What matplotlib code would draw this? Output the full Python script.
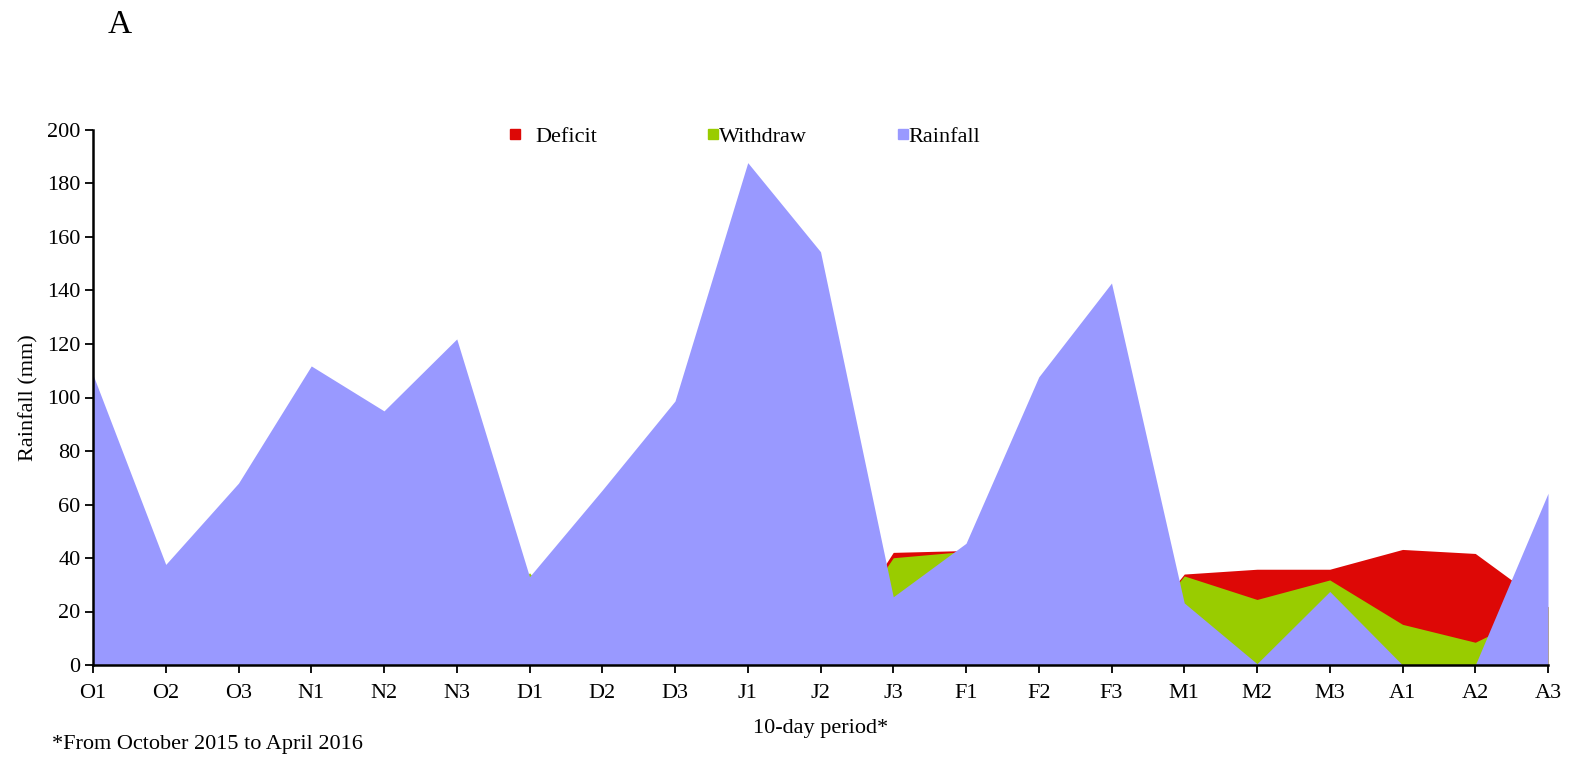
import matplotlib
matplotlib.use("Agg")
import matplotlib.pyplot as plt
from matplotlib.lines import Line2D
import numpy as np

plt.rcParams['font.family'] = ['Liberation Serif', 'DejaVu Serif']

periods = ["O1", "O2", "O3", "N1", "N2", "N3", "D1", "D2", "D3", "J1", "J2",
           "J3", "F1", "F2", "F3", "M1", "M2", "M3", "A1", "A2", "A3"]
rainfall = [108.5, 37.6, 68.0, 111.8, 95.0, 121.9, 33.0, 65.4, 98.7, 187.8, 154.5,
            25.5, 45.5, 107.7, 142.8, 23.2, 0.5, 27.5, 0.0, 0.0, 64.2]
withdraw = [0, 0, 0, 0, 0, 0, 34.5, 0, 0, 0, 0,
            40.1, 42.5, 0, 0, 33.3, 24.5, 31.8, 15.2, 8.5, 21.8]
deficit = [0, 0, 0, 0, 0, 0, 0, 0, 0, 0, 0,
           42.1, 42.8, 0, 0, 34.0, 35.8, 35.8, 43.2, 41.7, 21.8]
yticks = list(range(0, 201, 20))
legend_labels = ["Deficit", "Withdraw", "Rainfall"]

c_def = '#dd0806'
c_wd = '#99cc00'
c_rain = '#9999ff'

W, H = 1571, 760
fig = plt.figure(figsize=(W/100, H/100), dpi=100)
ax = fig.add_axes([93/W, 95/H, (1548-93)/W, 535/H])

x = np.arange(len(periods))
ax.fill_between(x, 0, deficit, color=c_def, lw=0, zorder=1)
ax.fill_between(x, 0, withdraw, color=c_wd, lw=0, zorder=2)
ax.fill_between(x, 0, rainfall, color=c_rain, lw=0, zorder=3)

ax.set_xlim(0, len(periods) - 1)
ax.set_ylim(0, 200)
ax.set_xticks(x)
ax.set_xticklabels(periods)
ax.set_yticks(yticks)
ax.tick_params(axis='both', labelsize=16, length=6, width=1.3, direction='out', colors='black')
ax.tick_params(axis='x', pad=8)
ax.tick_params(axis='y', pad=3)
for s in ['top', 'right']:
    ax.spines[s].set_visible(False)
for s in ['left', 'bottom']:
    ax.spines[s].set_linewidth(1.8)
    ax.spines[s].set_zorder(5)

ax.set_ylabel("Rainfall (mm)", fontsize=16, labelpad=6)
ax.set_xlabel("10-day period*", fontsize=16, labelpad=11)

# legend entries placed individually (irregular spacing as in original)
anchors_px = [509.5, 707.5, 897.5]
pads = [0.65, 0.0, 0.0]
legs = []
for lab, col, apx, pad in zip(legend_labels, (c_def, c_wd, c_rain), anchors_px, pads):
    h = Line2D([], [], marker='s', ls='none', color=col, markersize=6.5)
    leg = ax.legend([h], [lab], frameon=False, fontsize=16, loc='center left',
                    bbox_to_anchor=((apx - 93) / 1455, 0.988),
                    borderpad=0, borderaxespad=0, handlelength=0.5,
                    handletextpad=pad)
    legs.append(leg)
for leg in legs[:-1]:
    ax.add_artist(leg)

fig.text(52/W, 1 - 745/H, "*From October 2015 to April 2016", fontsize=16,
         ha='left', va='center')
fig.text(120/W, 1 - 25/H, "A", fontsize=24, ha='center', va='center')

fig.savefig("out.png", dpi=100)
